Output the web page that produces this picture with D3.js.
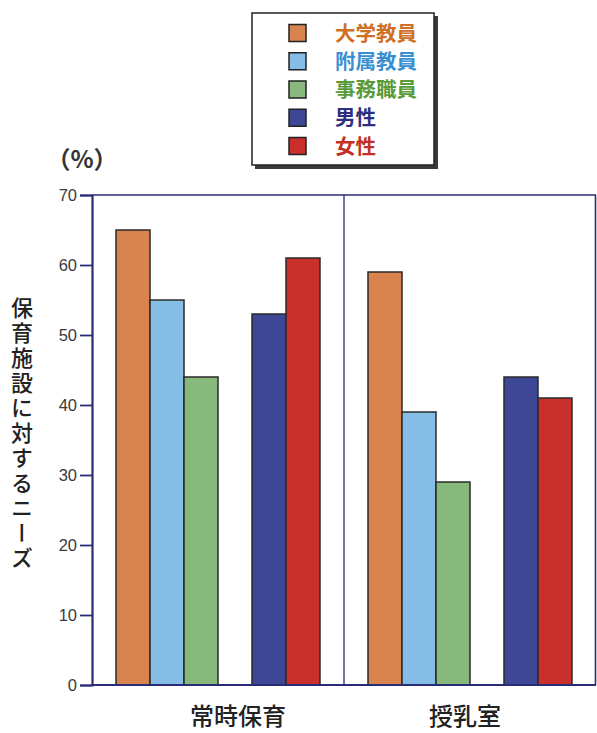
<!DOCTYPE html>
<html>
<head>
<meta charset="utf-8">
<script src="https://cdn.jsdelivr.net/npm/d3@7"></script>
<style>
  html, body { margin: 0; padding: 0; background: #fff; }
  svg { display: block; }
  .jp { font-family: "Noto Sans CJK JP", "Noto Sans", sans-serif; }
  .tick text { font-family: "Liberation Sans", Arial, sans-serif; }
</style>
</head>
<body>
<svg id="chart" width="597" height="733"></svg>
<script>
// Facilities and respondent groups
const facilities = ["常時保育", "授乳室"];
const seriesNames = ["大学教員", "附属教員", "事務職員", "男性", "女性"];
// Percentage of respondents citing each need, per series, in facility order
const univStaff   = [65, 59];
const attachStaff = [55, 39];
const adminStaff  = [44, 29];
const male        = [53, 44];
const female      = [61, 41];
const yTicks = [0, 10, 20, 30, 40, 50, 60, 70];

const seriesValues = [univStaff, attachStaff, adminStaff, male, female];
const fillColors = ["#d9834f", "#86bde6", "#86b97b", "#3e4795", "#c9302b"];
const textColors = ["#cf7026", "#3a8fd2", "#5a9a3a", "#2e2e7e", "#c2301f"];
// Bar slots in each group; the empty slot separates occupation from sex
const slots = ["大学教員", "附属教員", "事務職員", "_gap", "男性", "女性"];
// Horizontal nudge of each facility label from its group centre
const labelShift = [20, -5];

const svg = d3.select("#chart");
const margin = { left: 92, right: 1, top: 195, bottom: 48 };
const W = 597, H = 733;
const x0 = d3.scaleBand().domain(facilities)
  .range([margin.left, W - margin.right]).paddingInner(0).paddingOuter(0);
const x1 = d3.scaleBand().domain(slots)
  .range([0, x0.bandwidth()]).paddingInner(0).paddingOuter(0.706);
const y = d3.scaleLinear().domain([0, 70]).range([H - margin.bottom, margin.top]);

const axisColor = "#2b2c78";

// Bars
const barData = [];
facilities.forEach((f, fi) => {
  seriesNames.forEach((s, si) => {
    barData.push({ facility: f, series: s, value: seriesValues[si][fi], color: fillColors[si] });
  });
});
svg.append("g").selectAll("rect").data(barData).join("rect")
  .attr("x", d => x0(d.facility) + x1(d.series))
  .attr("y", d => y(d.value))
  .attr("width", x1.bandwidth())
  .attr("height", d => y(0) - y(d.value))
  .attr("fill", d => d.color)
  .attr("stroke", "#2a2a2a")
  .attr("stroke-width", 1.5);

// Plot frame and group divider
const x0L = x0.range()[0], x0R = x0.range()[1];
svg.append("line").attr("x1", x0L).attr("x2", x0R).attr("y1", y(70)).attr("y2", y(70))
  .attr("stroke", axisColor).attr("stroke-width", 1.6);
svg.append("line").attr("x1", x0R - 0.5).attr("x2", x0R - 0.5).attr("y1", y(70)).attr("y2", y(0))
  .attr("stroke", axisColor).attr("stroke-width", 1.6);
svg.append("line").attr("x1", x0(facilities[1])).attr("x2", x0(facilities[1]))
  .attr("y1", y(70)).attr("y2", y(0))
  .attr("stroke", axisColor).attr("stroke-width", 1.3);
svg.append("line").attr("x1", x0L).attr("x2", x0R).attr("y1", y(0)).attr("y2", y(0))
  .attr("stroke", axisColor).attr("stroke-width", 2);

// Y axis
const yAxis = svg.append("g").attr("transform", `translate(${x0L},0)`)
  .call(d3.axisLeft(y).tickValues(yTicks).tickSize(12).tickPadding(3));
yAxis.select(".domain").attr("stroke", axisColor).attr("stroke-width", 2.2);
yAxis.selectAll(".tick line").attr("stroke", axisColor).attr("stroke-width", 1.8);
yAxis.selectAll(".tick text").attr("font-size", 16.5).attr("fill", "#3a3a3a");

// Unit label
svg.append("text").attr("class", "jp")
  .attr("x", 82).attr("y", 168).attr("text-anchor", "middle")
  .attr("font-size", 24).attr("font-weight", 700).attr("fill", "#333")
  .text("（%）");

// Vertical axis title
svg.append("text").attr("class", "jp")
  .attr("x", 22).attr("y", 297)
  .style("writing-mode", "vertical-rl")
  .style("letter-spacing", "3px")
  .attr("font-size", 22).attr("font-weight", 500).attr("fill", "#222")
  .text("保育施設に対するニーズ");

// Facility labels
svg.append("g").selectAll("text").data(facilities).join("text")
  .attr("class", "jp")
  .attr("x", (d, i) => x0(d) + x0.bandwidth() / 2 + labelShift[i])
  .attr("y", 725)
  .attr("text-anchor", "middle")
  .attr("font-size", 24).attr("font-weight", 500).attr("fill", "#222")
  .text(d => d);

// Legend
const lg = svg.append("g");
lg.append("rect").attr("x", 255).attr("y", 16).attr("width", 183).attr("height", 153)
  .attr("fill", "#3a3a3a");
lg.append("rect").attr("x", 252).attr("y", 13).attr("width", 182).attr("height", 152)
  .attr("fill", "#fff").attr("stroke", "#222").attr("stroke-width", 1.5);
const ly = d3.scalePoint().domain(seriesNames).range([33, 146]);
lg.selectAll(".sw").data(seriesNames).join("rect")
  .attr("class", "sw")
  .attr("x", 289).attr("y", d => ly(d) - 8.5)
  .attr("width", 17).attr("height", 17)
  .attr("fill", (d, i) => fillColors[i])
  .attr("stroke", "#222").attr("stroke-width", 1.5);
lg.selectAll(".lt").data(seriesNames).join("text")
  .attr("class", "lt jp")
  .attr("x", 335).attr("y", d => ly(d) + 7.5)
  .attr("font-size", 20.5).attr("font-weight", 700)
  .attr("fill", (d, i) => textColors[i])
  .text(d => d);
</script>
</body>
</html>
